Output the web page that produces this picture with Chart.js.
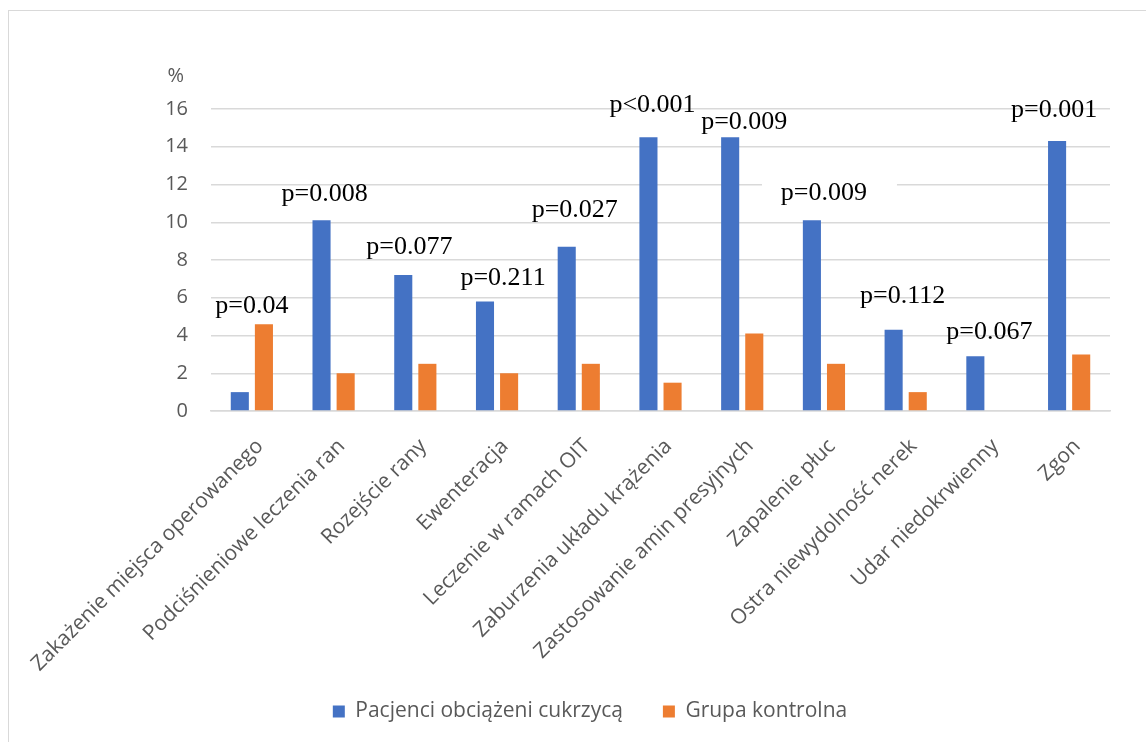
<!DOCTYPE html>
<html lang="pl">
<head>
<meta charset="utf-8">
<script src="https://cdn.jsdelivr.net/npm/chart.js@4/dist/chart.umd.min.js"></script>
<style>
  html, body { margin: 0; padding: 0; background: #ffffff; }
  #wrap { position: relative; width: 1146px; height: 742px; overflow: hidden; }
  #frame { position: absolute; left: 8px; top: 10px; width: 1200px; height: 800px;
           border-left: 1px solid #d9d9d9; border-top: 1px solid #d9d9d9; pointer-events: none; }
  canvas { position: absolute; left: 0; top: 0; }
</style>
</head>
<body>
<div id="wrap">
  <canvas id="chart" width="1146" height="742"></canvas>
  <div id="frame"></div>
</div>
<script>
// Powikłania pooperacyjne (%) w obu grupach
const categories = [
  'Zakażenie miejsca operowanego',
  'Podciśnieniowe leczenia ran',
  'Rozejście rany',
  'Ewenteracja',
  'Leczenie w ramach OIT',
  'Zaburzenia układu krążenia',
  'Zastosowanie amin presyjnych',
  'Zapalenie płuc',
  'Ostra niewydolność nerek',
  'Udar niedokrwienny',
  'Zgon'
];
const diabetic = [1.0, 10.1, 7.2, 5.8, 8.7, 14.5, 14.5, 10.1, 4.3, 2.9, 14.3];
const control  = [4.6, 2.0, 2.5, 2.0, 2.5, 1.5, 4.1, 2.5, 1.0, 0, 3.0];
const pValues  = ['p=0.04', 'p=0.008', 'p=0.077', 'p=0.211', 'p=0.027', 'p<0.001',
                  'p=0.009', 'p=0.009', 'p=0.112', 'p=0.067', 'p=0.001'];
const seriesNames = ['Pacjenci obciążeni cukrzycą', 'Grupa kontrolna'];

// Placement of the p-value captions: baseline height (axis units) and horizontal nudge (px)
const pLabelLayout = {
  baseline: [5.2, 11.1, 8.3, 6.7, 10.3, 15.85, 14.95, 11.2, 5.7, 3.8, 15.55],
  nudge:    [0, -9, -6, 6, -4, -8, 2, 0, -3, 2, -15],
  boxed:    [false, false, false, false, false, false, false, true, false, false, false]
};

const pLabels = {
  id: 'pLabels',
  afterDatasetsDraw(chart) {
    const { ctx, scales: { x, y } } = chart;
    ctx.save();
    ctx.font = '26px "Liberation Serif", "Times New Roman", serif';
    ctx.fillStyle = '#000000';
    ctx.textAlign = 'center';
    ctx.textBaseline = 'alphabetic';
    pValues.forEach((txt, i) => {
      const cx = x.getPixelForValue(i) + pLabelLayout.nudge[i];
      const by = y.getPixelForValue(pLabelLayout.baseline[i]);
      if (pLabelLayout.boxed[i]) {
        ctx.fillStyle = '#ffffff';
        ctx.fillRect(cx - 62, by - 26, 135, 34);
        ctx.fillStyle = '#000000';
      }
      ctx.fillText(txt, cx, by);
    });
    ctx.restore();
  }
};

const unitLabel = {
  id: 'unitLabel',
  afterDraw(chart) {
    const { ctx, scales: { y } } = chart;
    ctx.save();
    ctx.font = '20px "Open Sans", sans-serif';
    ctx.fillStyle = '#595959';
    ctx.textAlign = 'right';
    ctx.textBaseline = 'middle';
    ctx.fillText('%', y.right - 27, y.top - 33);
    ctx.restore();
  }
};

new Chart(document.getElementById('chart'), {
  type: 'bar',
  data: {
    labels: categories,
    datasets: [
      { label: seriesNames[0], data: diabetic, backgroundColor: '#4472C4' },
      { label: seriesNames[1], data: control,  backgroundColor: '#ED7D31' }
    ]
  },
  options: {
    responsive: false,
    animation: false,
    devicePixelRatio: 1,
    layout: { padding: { left: 70, right: 36, top: 109, bottom: 10 } },
    datasets: { bar: { categoryPercentage: 0.59, barPercentage: 0.75 } },
    scales: {
      x: {
        grid: { display: false },
        border: { display: true, color: '#d9d9d9', width: 1.5 },
        ticks: {
          color: '#595959',
          font: { family: 'Open Sans', size: 21 },
          minRotation: 45, maxRotation: 45,
          autoSkip: false,
          padding: 15,
          labelOffset: 8
        },
        afterFit(scale) {
          scale.height = 250;
          // long rotated labels may run past the axis box; let them draw in full
          scale._computeLabelArea = () => null;
        }
      },
      y: {
        min: 0, max: 16,
        ticks: {
          stepSize: 2,
          color: '#595959',
          font: { family: 'Open Sans', size: 20 },
          padding: 23
        },
        grid: { color: '#d9d9d9', lineWidth: 1.5, drawTicks: false },
        border: { display: false },
        afterFit(scale) { scale.width = 141; }
      }
    },
    plugins: {
      legend: {
        position: 'bottom',
        labels: {
          color: '#595959',
          font: { family: 'Open Sans', size: 21 },
          boxWidth: 12, boxHeight: 12,
          padding: 40
        }
      },
      tooltip: { enabled: false }
    }
  },
  plugins: [pLabels, unitLabel]
});
</script>
</body>
</html>
